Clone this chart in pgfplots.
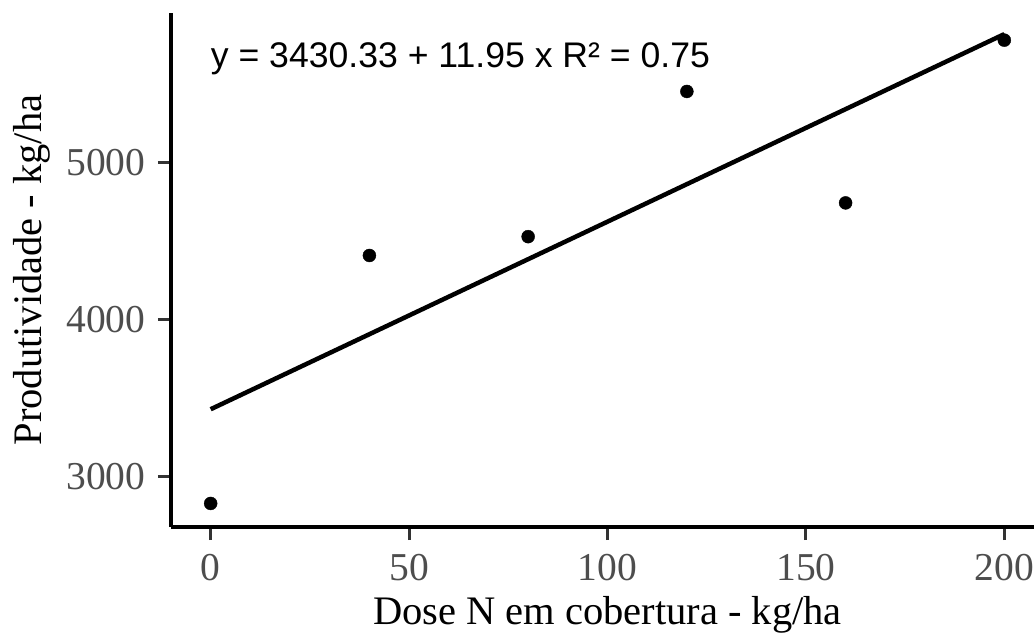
\documentclass[border=0pt]{standalone}
\usepackage{fontspec}
\setmainfont{Liberation Serif}
\newfontfamily\arial{Liberation Sans}
\usepackage{xcolor}
\usepackage{pgfplots}
\pgfplotsset{compat=1.18}
\definecolor{ticktext}{RGB}{77,77,77}
\definecolor{tickline}{RGB}{51,51,51}

\begin{document}
\begin{tikzpicture}
\begin{axis}[
  scale only axis,
  width=873pt, height=514pt,
  xmin=-10, xmax=210,
  ymin=2680, ymax=5955,
  enlargelimits=false,
  axis lines=left,
  axis line style={-, line width=3.5pt, black},
  xtick={0,50,100,150,200},
  ytick={3000,4000,5000},
  tick align=outside,
  major tick length=13pt,
  every tick/.style={line width=3pt, tickline},
  tick label style={font=\fontsize{39.5}{39.5}\selectfont, text=ticktext},
  xticklabel style={yshift=-11pt},
  yticklabel style={xshift=-9pt},
  /pgf/number format/assume math mode=true,
  /pgf/number format/.cd, set thousands separator={}, /pgfplots/.cd,
  xlabel={Dose N em cobertura - kg/ha},
  ylabel={Produtividade - kg/ha},
  label style={font=\fontsize{40.5}{40.5}\selectfont, inner sep=0pt},
  xlabel style={at={(axis description cs:0.5,0)}, anchor=base, yshift=-97pt},
  ylabel style={at={([xshift=-158pt]axis description cs:0,0.5)}, anchor=north},
  clip=false,
]
% observed yield
\addplot[only marks, mark=*, mark size=6.5pt, black] coordinates {
  (0,2830) (40,4410) (80,4530) (120,5455) (160,4745) (200,5782)
};
% fitted line y = 3430.33 + 11.95 x
\addplot[line width=4.5pt, black, line cap=butt] coordinates {(0,3430.33) (200,5820.33)};
\node[anchor=base west, inner sep=0pt, font=\arial\fontsize{35.6}{35.6}\selectfont]
  at (axis cs:0,5606) {y = 3430.33 + 11.95 x R² = 0.75};
\end{axis}
\pgfresetboundingbox
\path[use as bounding box] (-171pt,-108pt) rectangle (863pt,527pt);
\end{tikzpicture}
\end{document}
